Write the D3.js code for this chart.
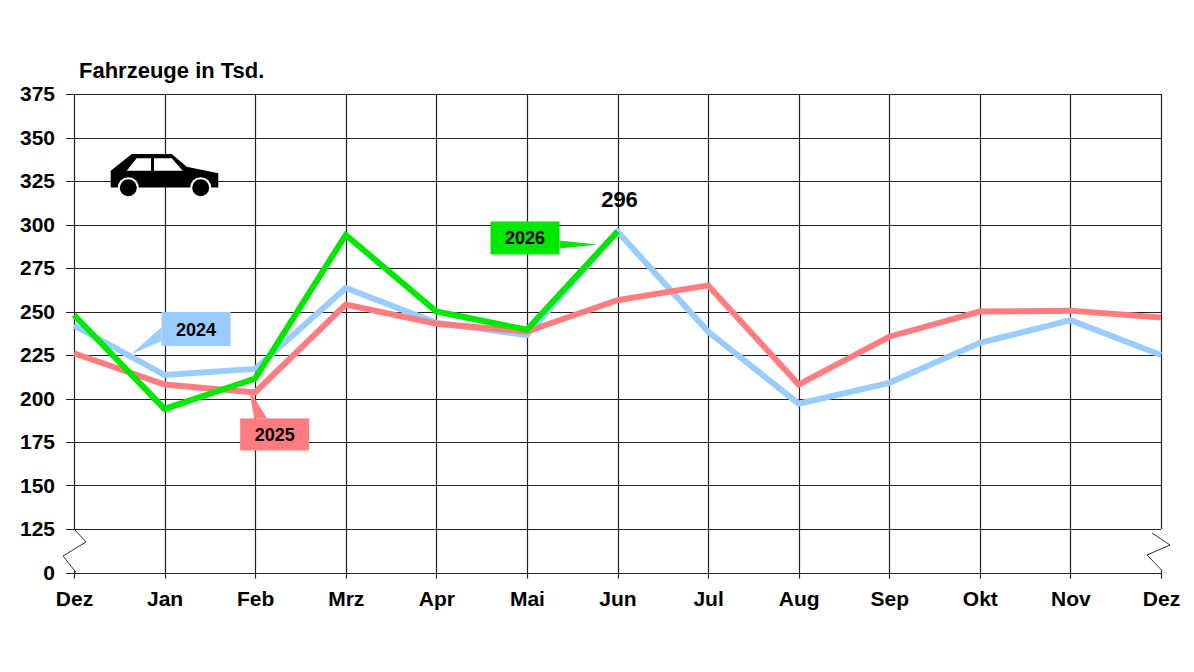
<!DOCTYPE html>
<html>
<head>
<meta charset="utf-8">
<script src="https://cdn.jsdelivr.net/npm/d3@7"></script>
<style>
  html, body { margin: 0; padding: 0; background: #fff; }
  svg { display: block; }
  text { font-family: "Liberation Sans", Arial, sans-serif; }
</style>
</head>
<body>
<svg id="chart" width="1194" height="672"></svg>
<script>
// ---- data ----
const months = ["Dez","Jan","Feb","Mrz","Apr","Mai","Jun","Jul","Aug","Sep","Okt","Nov","Dez"];
const s2024 = [242, 213.5, 217, 263.5, 243.5, 236.5, 296, 238.5, 197, 209, 232, 245, 225];
const s2025 = [226, 208, 203.5, 254, 243, 238.5, 256.5, 265, 208, 235.5, 250, 250.5, 246.5];
const s2026 = [248, 194, 211.5, 294, 250, 239.5, 296];
const yTickValues = [100, 125, 150, 175, 200, 225, 250, 275, 300, 325, 350, 375];
const yTickLabels = ["0", "125", "150", "175", "200", "225", "250", "275", "300", "325", "350", "375"];
const seriesNames = ["2024", "2025", "2026"];
const seriesColors = ["#99ccff", "#ff7c80", "#00e800"];
const peakLabel = "296";
const title = "Fahrzeuge in Tsd.";

// ---- layout ----
const svg = d3.select("#chart");
const mLeft = 74, mRight = 1161, mTop = 94, mBottom = 572.5;

const x = d3.scalePoint().domain(d3.range(months.length)).range([mLeft, mRight]);
const y = d3.scaleLinear().domain([100, 375]).range([mBottom, mTop]);

const grid = svg.append("g");
// horizontal grid lines (from tick mark to right edge)
grid.selectAll("line.h").data(yTickValues).join("line")
  .attr("x1", mLeft - 8).attr("x2", mRight)
  .attr("y1", d => Math.round(y(d)) + 0.5).attr("y2", d => Math.round(y(d)) + 0.5)
  .attr("stroke", "#222").attr("stroke-width", 1.2);

// vertical grid lines
grid.selectAll("line.v").data(d3.range(months.length)).join("line")
  .attr("x1", d => Math.round(x(d)) + 0.5).attr("x2", d => Math.round(x(d)) + 0.5)
  .attr("y1", mTop)
  .attr("y2", (d, i) => (i === 0 || i === months.length - 1) ? y(125) : mBottom + 6)
  .attr("stroke", "#222").attr("stroke-width", 1.2);

// bottom ticks for first/last (below baseline)
[0, months.length - 1].forEach(i => {
  grid.append("line")
    .attr("x1", Math.round(x(i)) + 0.5).attr("x2", Math.round(x(i)) + 0.5)
    .attr("y1", mBottom - 2).attr("y2", mBottom + 6)
    .attr("stroke", "#222").attr("stroke-width", 1.2);
});

// axis break zigzags
const ya = y(125), yb = y(100);
const zl = [[0, 0], [12, 13], [-11, 27], [2, yb - ya]];
grid.append("polyline")
  .attr("points", zl.map(p => [x(0) + p[0], ya + p[1]].join(",")).join(" "))
  .attr("fill", "none").attr("stroke", "#333").attr("stroke-width", 1);
const zr = [[-9, 4], [9, 16], [-14, 26], [1, yb - ya - 2]];
grid.append("polyline")
  .attr("points", zr.map(p => [x(months.length - 1) + p[0], ya + p[1]].join(",")).join(" "))
  .attr("fill", "none").attr("stroke", "#333").attr("stroke-width", 1);

// axes labels via d3 axes
const yAxis = d3.axisLeft(y).tickValues(yTickValues)
  .tickFormat((d, i) => yTickLabels[i]).tickSize(0).tickPadding(19);
const gy = svg.append("g").attr("transform", `translate(${mLeft},0)`).call(yAxis);
gy.select(".domain").remove();
gy.selectAll("text").attr("font-size", 21).attr("font-weight", "bold")
  .attr("fill", "#000").style("font-family", "'Liberation Sans', Arial, sans-serif");

const xAxis = d3.axisBottom(x).tickFormat(i => months[i]).tickSize(0).tickPadding(19);
const gx = svg.append("g").attr("transform", `translate(0,${mBottom})`).call(xAxis);
gx.select(".domain").remove();
gx.selectAll("text").attr("font-size", 21).attr("font-weight", "bold")
  .attr("fill", "#000").style("font-family", "'Liberation Sans', Arial, sans-serif");

// title
svg.append("text").attr("x", 79).attr("y", 78)
  .attr("font-size", 22).attr("font-weight", "bold").attr("fill", "#000")
  .text(title);

// ---- lines ----
const line = d3.line().x((d, i) => x(i)).y(d => y(d)).curve(d3.curveLinear);
[s2024, s2025, s2026].forEach((s, k) => {
  svg.append("path").datum(s)
    .attr("d", line)
    .attr("fill", "none")
    .attr("stroke", seriesColors[k])
    .attr("stroke-width", 6)
    .attr("stroke-linejoin", "miter")
    .attr("stroke-miterlimit", 3);
});

// ---- callout labels ----
function callout(bx, by, w, h, pointer, color, label) {
  const g = svg.append("g");
  g.append("polygon").attr("points", pointer.map(p => p.join(",")).join(" ")).attr("fill", color);
  g.append("rect").attr("x", bx).attr("y", by).attr("width", w).attr("height", h).attr("fill", color);
  g.append("text").attr("x", bx + w / 2).attr("y", by + h / 2 + 6.5)
    .attr("text-anchor", "middle").attr("font-size", 18).attr("font-weight", "bold")
    .attr("fill", "#000").text(label);
}
// 2024 – near Jan
{
  const ax = x(1), ay = y(s2024[1]);
  const bx = ax - 3, by = ay - 63;
  callout(bx, by, 69, 34, [[bx, by + 15], [bx, by + 29], [ax - 33, ay - 21]], seriesColors[0], seriesNames[0]);
}
// 2025 – near Feb
{
  const ax = x(2), ay = y(s2025[2]);
  const bx = ax - 15, by = ay + 26;
  callout(bx, by, 69, 32, [[bx + 14, by], [bx + 27, by], [ax - 6, ay - 3]], seriesColors[1], seriesNames[1]);
}
// 2026 – near Jun
{
  const ax = x(6), ay = y(s2026[6]);
  const bx = ax - 127, by = ay - 10;
  callout(bx, by, 69, 33, [[bx + 69, by + 19], [bx + 69, by + 27], [ax - 20, ay + 13]], seriesColors[2], seriesNames[2]);
}

// peak value label
svg.append("text").attr("x", x(6) + 2).attr("y", y(296) - 24)
  .attr("text-anchor", "middle").attr("font-size", 22).attr("font-weight", "bold").attr("fill", "#000")
  .text(peakLabel);

// ---- car icon (decoration) ----
const car = svg.append("g");
car.append("path")
  .attr("d", "M110.7,170.7 L131.7,154 L171.7,154 L186.7,166.7 L218.3,173.3 L218.3,187.5 L110.7,187.5 Z")
  .attr("fill", "#000");
car.append("path")
  .attr("d", "M126.7,170.7 L136.7,158.3 L151,158.3 L151,170.7 Z M154,158.3 L171.7,158.3 L182.7,170.7 L154,170.7 Z")
  .attr("fill", "#fff");
[[128.3, 187.7], [200.7, 187.7]].forEach(c => {
  car.append("circle").attr("cx", c[0]).attr("cy", c[1]).attr("r", 10.5).attr("fill", "#fff");
  car.append("circle").attr("cx", c[0]).attr("cy", c[1]).attr("r", 8.5).attr("fill", "#000");
});
</script>
</body>
</html>
